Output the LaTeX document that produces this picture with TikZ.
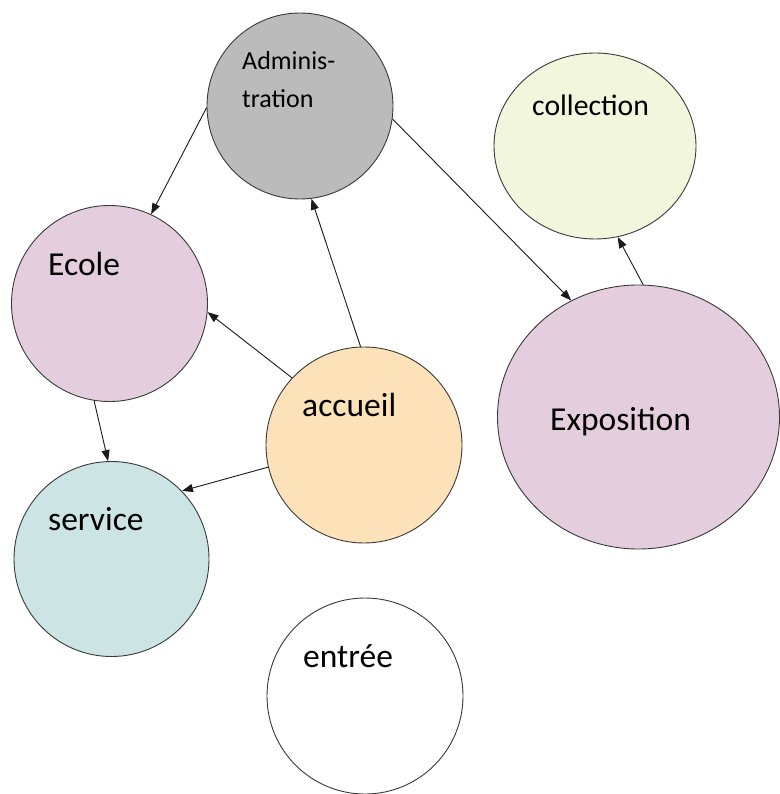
\documentclass[tikz,border=0pt]{standalone}
\usepackage{fontspec}
\setmainfont{Carlito}
\usetikzlibrary{shapes.geometric,arrows.meta}

\definecolor{admingray}{HTML}{BBBBBB}
\definecolor{collgreen}{HTML}{F1F6DC}
\definecolor{rosepink}{HTML}{E4CDDD}
\definecolor{peach}{HTML}{FDE1B8}
\definecolor{paleteal}{HTML}{CCE5E4}
\definecolor{rimgray}{HTML}{3A3A3A}

\tikzset{
  bubble/.style={circle, draw=rimgray, line width=0.9pt, inner sep=0pt},
  oval/.style={ellipse, draw=rimgray, line width=0.9pt, inner sep=0pt},
  caption/.style={anchor=base west, inner sep=0pt, font=\fontsize{33.5}{40}\selectfont},
  link/.style={line width=0.9pt, draw=black!90,
    -{Triangle[length=11pt,width=8pt]}}
}

\begin{document}
\begin{tikzpicture}[x=1pt,y=-1pt]
\useasboundingbox (0,0) rectangle (779,794);

% bubbles
\node[bubble, fill=admingray, minimum size=186pt] (admin) at (300,106) {};
\node[oval, fill=collgreen, minimum width=202pt, minimum height=186pt] (coll) at (595,146) {};
\node[bubble, fill=rosepink, minimum size=196pt] (ecole) at (109.5,303.5) {};
\node[oval, fill=rosepink, minimum width=282pt, minimum height=264pt] (expo) at (638.5,417) {};
\node[bubble, fill=peach, minimum size=196pt] (accueil) at (364,445) {};
\node[bubble, fill=paleteal, minimum size=195pt] (service) at (111.5,559) {};
\node[bubble, fill=white, minimum size=196pt] (entree) at (365,696) {};

% labels (the two-line one is anchored on its last baseline)
\node[anchor=base west, inner sep=0pt, align=left,
      font=\fontsize{26}{38}\selectfont] (admintxt) at (242,108) {Adminis-\\tration};
\node[caption, font=\fontsize{29.7}{36}\selectfont] (colltxt) at (532,116) {collection};
\node[caption] (ecoletxt) at (48,275) {Ecole};
\node[caption] (expotxt) at (550,430) {Exposition};
\node[caption] (accueiltxt) at (302,416) {accueil};
\node[caption] (servicetxt) at (48,530) {service};
\node[caption] (entreetxt) at (303,667) {entrée};

% connectors
\draw[link] (admin.181) -- (ecole.65);
\draw[link] (admin.-8) -- (expo.120.8);
\draw[link] (accueil.92.5) -- (admin.-83);
\draw[link] (accueil.137.5) -- (ecole.-5);
\draw[link] (accueil.193.5) -- (service.44);
\draw[link] (ecole.-99) -- (service.92.7);
\draw[link] (expo.88.5) -- (coll.-76.4);
\end{tikzpicture}
\end{document}
